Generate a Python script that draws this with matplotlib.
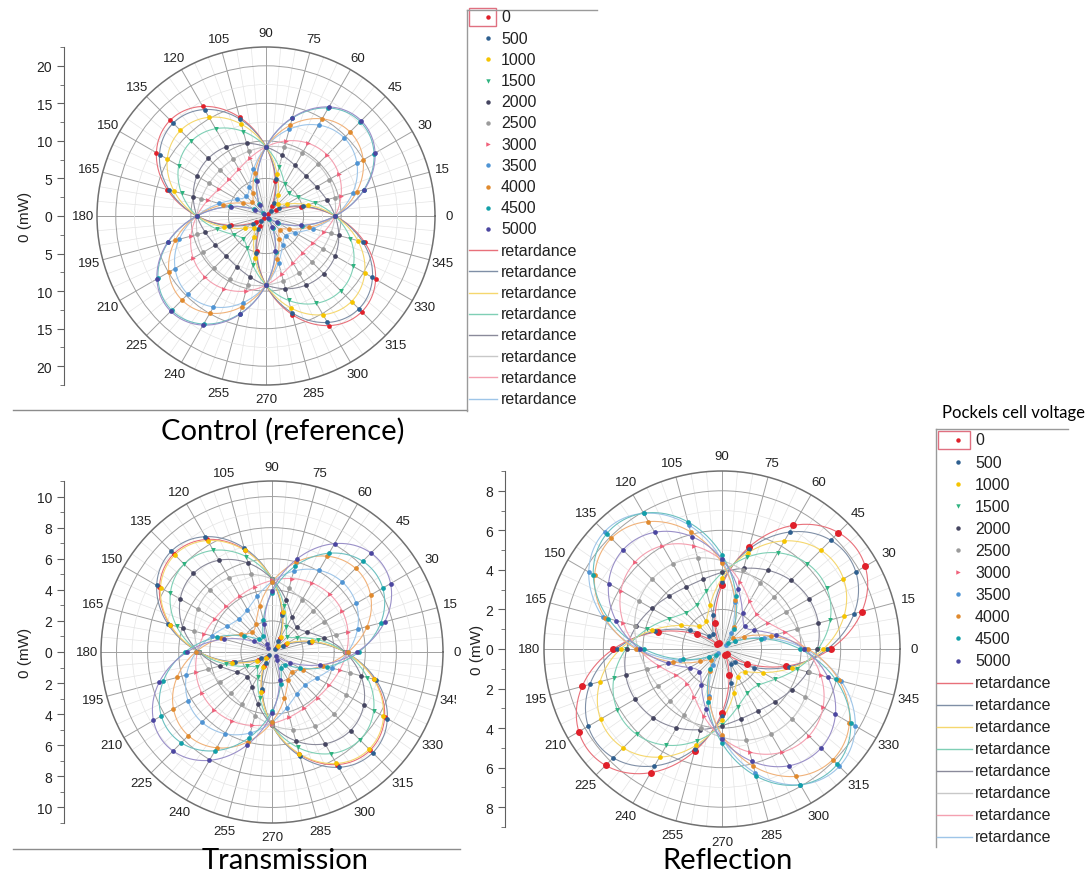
import numpy as np
import matplotlib.pyplot as plt
from matplotlib.patches import Rectangle
from matplotlib.transforms import Bbox, TransformedBbox

W, H, DPI = 1091, 879, 100

# -----------------------------------------------------------------------------
# data
# -----------------------------------------------------------------------------
voltages = [0, 500, 1000, 1500, 2000, 2500, 3000, 3500, 4000, 4500, 5000]
angles_deg = np.arange(0, 360, 15)          # measurement angles
angle_labels = [str(a) for a in angles_deg]

marker_colors = ['#e0202a', '#2e5f8f', '#f5c400', '#2fb380', '#454560', '#9b9b9b',
                 '#f0607a', '#4f94d4', '#e08a2e', '#13a0a8', '#4b46a0']
line_colors = ['#e8707a', '#7f8fa6', '#f5d76e', '#7fcfb5', '#8a8a9a', '#c8c8c8',
               '#f4a0b0', '#9ec5e8', '#f0b27a', '#6cc0c0', '#9a90c8']
marker_shapes = ['o', 'o', 'o', 'v', 'o', 'o', '>', 'o', 'o', 'o', 'o']

# retardance fit per voltage: mean power (mW), modulation depth, lobe axis (deg)
ctrl_mean = [9.2, 9.2, 9.2, 9.2, 9.2, 9.2, 9.2, 9.2, 9.2, 9.2, 9.2]
ctrl_depth = [0.96, 0.90, 0.75, 0.53, 0.18, 0.06, 0.25, 0.60, 0.72, 0.93, 0.95]
ctrl_axis = [135, 135, 135, 135, 135, 45, 45, 45, 45, 45, 45]

tran_mean = [4.7, 4.7, 4.7, 4.7, 4.7, 4.7, 4.7, 4.7, 4.7, 4.7, 4.7]
tran_depth = [0.90, 0.95, 0.88, 0.70, 0.52, 0.20, 0.12, 0.36, 0.62, 0.78, 0.93]
tran_axis = [135, 135, 135, 135, 135, 135, 40, 42, 43, 38, 40]

refl_mean = [4.35, 4.35, 4.35, 4.35, 4.35, 4.35, 4.35, 4.35, 4.35, 4.35, 4.35]
refl_depth = [0.95, 0.82, 0.65, 0.42, 0.17, 0.15, 0.43, 0.93, 0.82, 0.90, 0.63]
refl_axis = [37, 37, 37, 37, 25, 130, 133, 134, 135, 132, 133]

plt.rcParams['font.family'] = ['Liberation Sans', 'DejaVu Sans']


def fit(theta_deg, mean, depth, axis):
    return mean * (1 + depth * np.cos(np.deg2rad(2 * (theta_deg - axis))))


def polar_panel(fig, cx, cy, rad, rmax, major, minor, axis_x,
                mean, depth, axis, big_zero=False, clip_right=None):
    ax = fig.add_axes([(cx - rad) / W, 1 - (cy + rad) / H, 2 * rad / W, 2 * rad / H],
                      projection='polar')
    ax.set_ylim(0, rmax)
    ax.set_yticks(np.arange(major, rmax, major))
    ax.set_yticks(np.arange(minor, rmax, minor), minor=True)
    ax.set_yticklabels([])
    ax.set_xticks(np.deg2rad(angles_deg))
    ax.set_xticks(np.deg2rad(np.arange(0, 360, 5)), minor=True)
    ax.set_xticklabels([])
    ax.grid(which='major', color='#a0a0a0', lw=0.7)
    ax.grid(which='minor', color='#e4e4e4', lw=0.5)
    ax.spines['polar'].set_color('#707070')
    ax.spines['polar'].set_linewidth(1.1)
    ax.tick_params(axis='x', which='major', direction='in', length=5, color='#707070')
    ax.tick_params(axis='x', which='minor', direction='in', length=3, color='#909090')
    ax.tick_params(axis='y', which='both', length=0)

    th = np.linspace(0, 360, 721)
    for i in range(len(voltages)):
        ax.plot(np.deg2rad(th), fit(th, mean[i], depth[i], axis[i]),
                color=line_colors[i], lw=0.8, zorder=2)
    for i in range(len(voltages)):
        ms = 5 if (big_zero and i == 0) else 3.4
        ax.plot(np.deg2rad(angles_deg), fit(angles_deg, mean[i], depth[i], axis[i]),
                ls='none', marker=marker_shapes[i], ms=ms, mew=0,
                color=marker_colors[i], zorder=3)

    for a, lab in zip(angles_deg, angle_labels):
        t = ax.text(np.deg2rad(a), rmax * 1.082, lab, ha='center', va='center',
                    fontsize=9.5, color='#222222')
        # the right edge of the bottom-left panel is cropped in the source
        if clip_right is not None and 300 < a < 360:
            t.set_clip_on(True)
            t.set_clip_box(TransformedBbox(Bbox([[0, 0], [clip_right / W, 1]]),
                                           fig.transFigure))

    # straight radial scale on the left
    rax = fig.add_axes([axis_x / W, 1 - (cy + rad) / H, 0.0001, 2 * rad / H])
    rax.set_ylim(-rmax, rmax)
    top = major * np.floor(rmax / major)
    maj = np.arange(-top, top + 0.01, major)
    rax.set_yticks(maj)
    rax.set_yticklabels(['%d' % abs(v) for v in maj], fontsize=10, color='#222222')
    rax.set_yticks(np.arange(-top - minor, top + minor + 0.01, minor), minor=True)
    rax.set_xticks([])
    for s in ['top', 'right', 'bottom']:
        rax.spines[s].set_visible(False)
    rax.spines['left'].set_color('#606060')
    rax.tick_params(axis='y', which='major', direction='out', length=5, color='#606060')
    rax.tick_params(axis='y', which='minor', direction='out', length=3, color='#606060')
    rax.patch.set_alpha(0)
    return ax


fig = plt.figure(figsize=(W / DPI, H / DPI), dpi=DPI)

polar_panel(fig, 266, 217, 169, 22.5, 5, 2.5, 64, ctrl_mean, ctrl_depth, ctrl_axis)
polar_panel(fig, 272, 653, 171, 11.0, 2, 1, 64, tran_mean, tran_depth, tran_axis,
            clip_right=456)
polar_panel(fig, 722, 650, 178, 9.0, 2, 1, 505, refl_mean, refl_depth, refl_axis,
            big_zero=True)

# overlay in pixel coordinates for titles, separators and legends
ov = fig.add_axes([0, 0, 1, 1])
ov.set_xlim(0, W)
ov.set_ylim(H, 0)
ov.axis('off')
ov.patch.set_alpha(0)

for x, y in [(25, 217), (25, 653), (477, 650)]:
    ov.text(x, y, '0 (mW)', rotation=90, ha='center', va='center', fontsize=11,
            color='#222222')

title_font = ['Lato', 'DejaVu Sans']
ov.text(283, 431, 'Control (reference)', ha='center', va='center', fontsize=21,
        family=title_font)
ov.text(285, 861, 'Transmission', ha='center', va='center', fontsize=21,
        family=title_font)
ov.text(728, 861, 'Reflection', ha='center', va='center', fontsize=21,
        family=title_font)
ov.text(1013, 413, 'Pockels cell voltage', ha='center', va='center', fontsize=12,
        family=title_font)

ov.plot([13, 467], [411, 411], color='#8c8c8c', lw=1)
ov.plot([13, 460], [850, 850], color='#8c8c8c', lw=1)


def legend(x0, y0, y_end, dy, right, marker_x, text_x, line_x0, line_x1, first):
    ov.plot([x0, x0], [y0, y_end], color='#9a9a9a', lw=1)
    ov.plot([x0, right], [y0, y0], color='#9a9a9a', lw=1)
    for i, v in enumerate(voltages):
        y = first + i * dy
        ov.plot([marker_x], [y], marker=marker_shapes[i], ms=3.2, mew=0,
                color=marker_colors[i], ls='none')
        ov.text(text_x, y, str(v), va='center', fontsize=11.5, color='#222222')
    ov.add_patch(Rectangle((x0 + 2, first - 9), text_x - x0 - 7, 18, fill=False,
                           ec='#e07080', lw=1))
    for j in range(8):
        y = first + (len(voltages) + j) * dy
        ov.plot([line_x0, line_x1], [y, y], color=line_colors[j], lw=1)
        ov.text(text_x, y, 'retardance', va='center', fontsize=11.5, color='#222222')


legend(467, 11, 412, 21.2, 597, 488, 501, 469, 497, 18)
legend(936, 430, 848, 22.05, 1068, 958, 975, 937, 972, 441)

fig.savefig('out.png', dpi=DPI)
